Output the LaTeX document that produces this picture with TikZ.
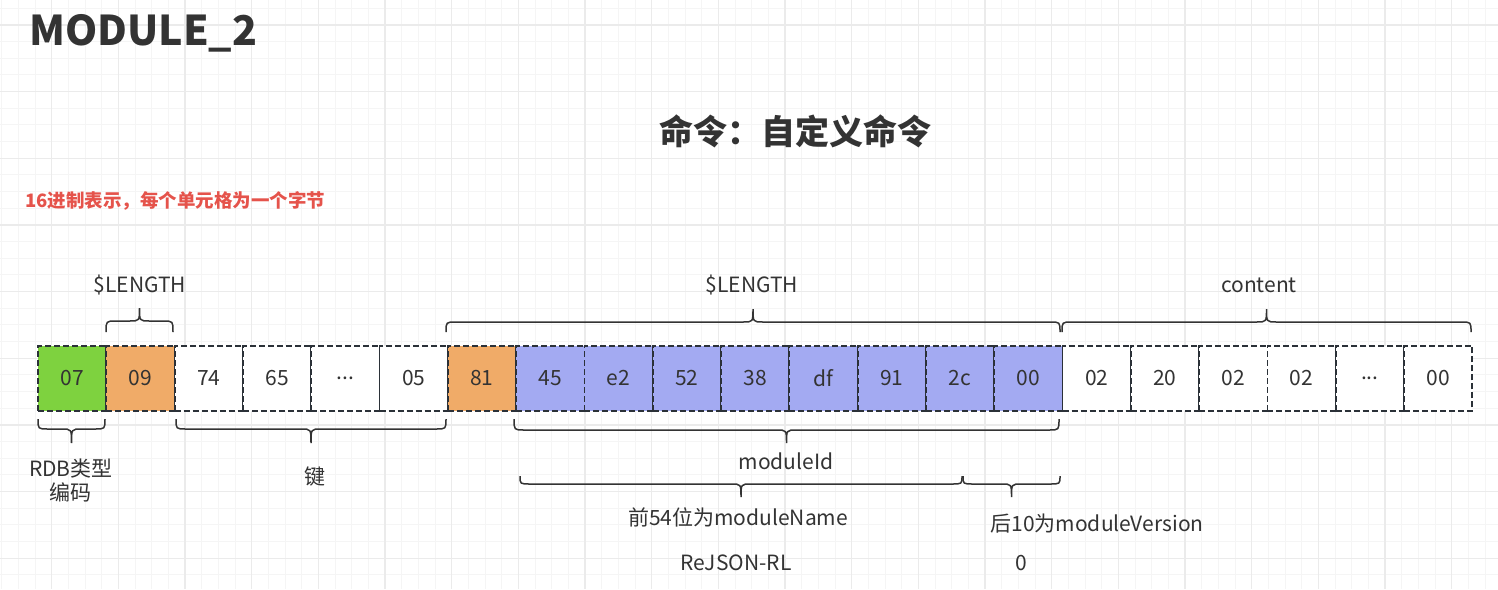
\documentclass[tikz,border=0pt]{standalone}
\usepackage{fontspec}
\setmainfont{Noto Sans CJK SC}
\definecolor{txt}{HTML}{333333}
\definecolor{gminor}{HTML}{F5F5F5}
\definecolor{gmajor}{HTML}{EBEBEB}
\definecolor{cgreen}{HTML}{7ED23F}
\definecolor{corange}{HTML}{F0AB68}
\definecolor{cblue}{HTML}{A3AAF2}
\definecolor{cborder}{HTML}{2B3138}
\definecolor{cred}{HTML}{E5534B}
\newcommand\fsz[1]{\fontsize{#1}{#1}\selectfont}
\newcommand\mkcell[3]{\node[cellbox, fill=#3] (c#1) at ({38+68.3*#1+34.15}, 378.5) {#2};}
\newcommand\mybrace[5]{\draw[bracestyle] (#1,#3) .. controls (#1,#4) .. ({#1+10},#4) -- ({(#1+#2)/2-10},#4) .. controls ({(#1+#2)/2},#4) .. ({(#1+#2)/2},#5) .. controls ({(#1+#2)/2},#4) .. ({(#1+#2)/2+10},#4) -- ({#2-10},#4) .. controls (#2,#4) .. (#2,#3);}
\tikzset{
  cellbox/.style={draw=cborder, line width=1.8pt, dash pattern=on 6pt off 3pt, minimum width=68.3pt, minimum height=65pt, inner sep=0pt, text=txt, font=\fsz{21}},
  bracestyle/.style={draw=txt, line width=1.5pt},
  lbl/.style={text=txt, font=\fsz{21}, inner sep=0pt}
}
\begin{document}
\begin{tikzpicture}[x=1pt,y=-1pt]
\useasboundingbox (0,0) rectangle (1498,589);
\fill[white] (0,0) rectangle (1498,589);
% grid
\foreach \i in {0,...,90} {\draw[gminor, line width=1pt] ({1.7+16.667*\i},0) -- ++(0,589);}
\foreach \i in {0,...,36} {\draw[gminor, line width=1pt] (0,{8.3+16.667*\i}) -- ++(1498,0);}
\foreach \i in {0,...,22} {\draw[gmajor, line width=1.2pt] ({51.7+66.667*\i},0) -- ++(0,589);}
\foreach \i in {0,...,9} {\draw[gmajor, line width=1.2pt] (0,{25+66.667*\i}) -- ++(1498,0);}
% titles
\node[anchor=west, text=txt, font=\bfseries\fsz{41}, inner sep=0pt] (title) at (29,33) {MODULE\_2};
\node[text=txt, font=\bfseries\fsz{34}, inner sep=0pt] (sub) at (795,131) {命令：自定义命令};
\node[anchor=west, text=cred, font=\bfseries\fsz{18.5}, inner sep=0pt] (note) at (25,201) {16进制表示，每个单元格为一个字节};
% cells
\mkcell{0}{07}{cgreen}
\mkcell{1}{09}{corange}
\mkcell{2}{74}{white}
\mkcell{3}{65}{white}
\mkcell{4}{...}{white}
\mkcell{5}{05}{white}
\mkcell{6}{81}{corange}
\mkcell{7}{45}{cblue}
\mkcell{8}{e2}{cblue}
\mkcell{9}{52}{cblue}
\mkcell{10}{38}{cblue}
\mkcell{11}{df}{cblue}
\mkcell{12}{91}{cblue}
\mkcell{13}{2c}{cblue}
\mkcell{14}{00}{cblue}
\mkcell{15}{02}{white}
\mkcell{16}{20}{white}
\mkcell{17}{02}{white}
\mkcell{18}{02}{white}
\mkcell{19}{...}{white}
\mkcell{20}{00}{white}
% braces above
\mybrace{106}{173}{332}{321}{308}
\mybrace{446}{1060}{332}{322}{309}
\mybrace{1062}{1471}{332}{322}{309}
% braces below
\mybrace{38}{105}{419}{429}{443}
\mybrace{176}{446}{419}{429}{443}
\mybrace{514}{1059}{419}{430}{443}
\mybrace{520}{962}{476}{484}{497}
\mybrace{963}{1060}{476}{484}{497}
% labels
\node[lbl] (len1) at (140,285) {\$LENGTH};
\node[lbl] (len2) at (752,285) {\$LENGTH};
\node[lbl] (cont) at (1259,285) {content};
\node[lbl, align=center] (rdb) at (71,480) {RDB类型\\[3pt]编码};
\node[lbl] (key) at (315,477) {键};
\node[lbl] (mid) at (786,461) {moduleId};
\node[lbl] (mname) at (738,517) {前54位为moduleName};
\node[lbl] (mver) at (1097,524) {后10为moduleVersion};
\node[lbl] (rejson) at (736,563) {ReJSON-RL};
\node[lbl] (zero) at (1021,563) {0};
\end{tikzpicture}
\end{document}
